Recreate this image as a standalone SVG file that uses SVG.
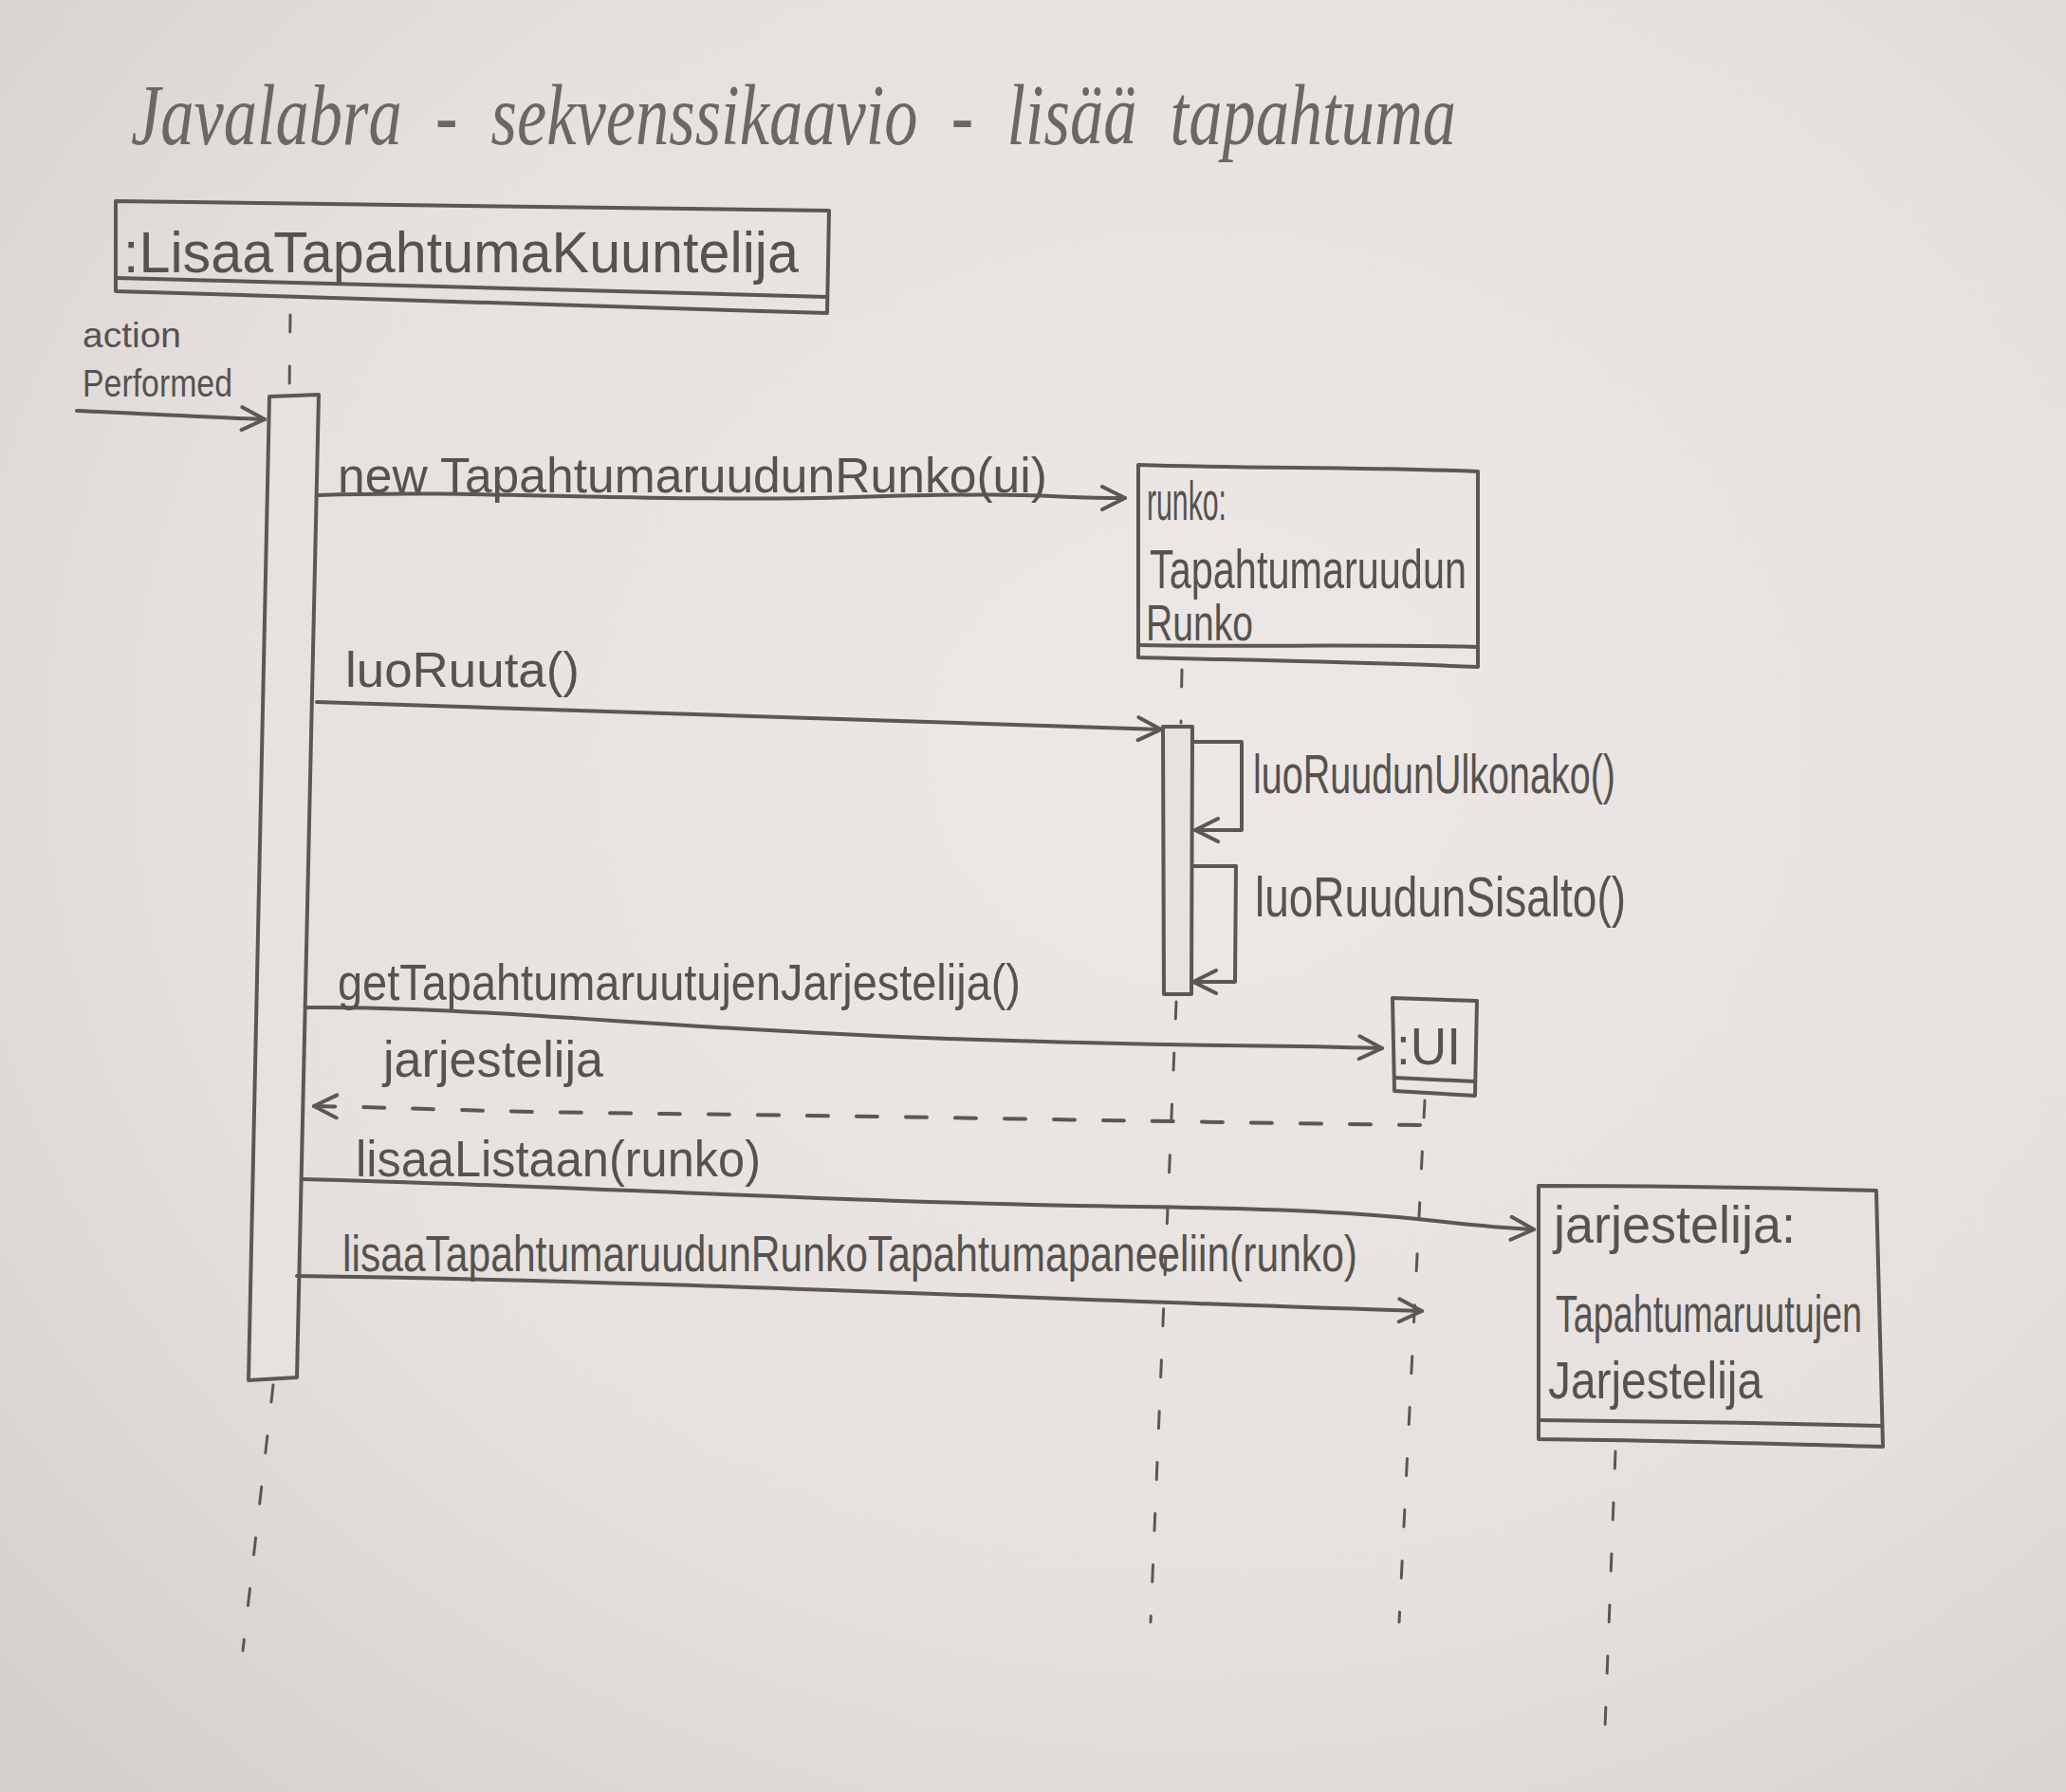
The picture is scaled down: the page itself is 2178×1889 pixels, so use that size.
<svg xmlns="http://www.w3.org/2000/svg" width="2178" height="1889" viewBox="0 0 2178 1889">
<defs>
<radialGradient id="paper" cx="0.58" cy="0.42" r="0.8">
<stop offset="0" stop-color="#ede8e5"/>
<stop offset="0.6" stop-color="#e6e1de"/>
<stop offset="1" stop-color="#d4cfcb"/>
</radialGradient>
<marker id="arr" viewBox="0 0 30 28" markerWidth="30" markerHeight="28" refX="27" refY="14" orient="auto" markerUnits="userSpaceOnUse">
<path d="M3,2 L27,14 L3,26" fill="none" stroke="#5a5754" stroke-width="4" stroke-dasharray="none" stroke-linecap="round" stroke-linejoin="round"/>
</marker>
<style>
.ln{fill:none;stroke:#5a5754;stroke-width:4;stroke-linecap:round;stroke-linejoin:round}
.box{fill:none;stroke:#5a5754;stroke-width:4;stroke-linejoin:round}
.bar{fill:#e6e2df;stroke:#5a5754;stroke-width:4;stroke-linejoin:round}
.life{fill:none;stroke:#5a5754;stroke-width:3;stroke-dasharray:18 36;stroke-linecap:round}
.ret{stroke-dasharray:22 30}
.t{font-family:"Liberation Sans Narrow","Liberation Sans",sans-serif;fill:#55524f}
.title{font-family:"Liberation Serif",serif;font-style:italic;fill:#6a6764;font-size:90px}
</style>
</defs>
<rect x="0" y="0" width="2178" height="1889" fill="url(#paper)"/>

<g id="title">
<text class="title" x="138" y="152" textLength="1397" lengthAdjust="spacingAndGlyphs" xml:space="preserve">Javalabra  -  sekvenssikaavio  -  lisää  tapahtuma</text>
</g>

<g id="kuuntelija">
<path class="box" d="M122,212 C350,214 600,216 874,222 L872,330 C600,322 350,312 122,307 Z"/>
<path class="ln" d="M122,293 C350,298 600,306 872,313"/>
<text class="t" x="130" y="287" font-size="62" textLength="712" lengthAdjust="spacingAndGlyphs">:LisaaTapahtumaKuuntelija</text>
<path class="life" d="M306,332 L305,415"/>
<path class="bar" d="M284,418 L336,416 L313,1452 L262,1455 Z"/>
<path class="life" d="M288,1460 L256,1740"/>
</g>

<g id="runko">
<path class="box" d="M1200,490 C1320,494 1440,492 1558,497 L1558,703 C1440,698 1320,696 1200,693 Z"/>
<path class="ln" d="M1200,680 C1320,682 1440,679 1558,682"/>
<text class="t" x="1209" y="548" font-size="58" textLength="84" lengthAdjust="spacingAndGlyphs">runko:</text>
<text class="t" x="1212" y="620" font-size="58" textLength="334" lengthAdjust="spacingAndGlyphs">Tapahtumaruudun</text>
<text class="t" x="1208" y="675" font-size="54" textLength="113" lengthAdjust="spacingAndGlyphs">Runko</text>
<path class="life" d="M1246,706 L1245,762"/>
<path class="bar" d="M1226,766 L1257,766 L1256,1048 L1227,1048 Z"/>
<path class="life" d="M1240,1056 L1213,1710"/>
</g>

<g id="ui">
<path class="box" d="M1468,1052 L1557,1055 L1555,1155 L1470,1150 Z"/>
<path class="ln" d="M1470,1136 L1555,1140"/>
<text class="t" x="1472" y="1122" font-size="56" textLength="68" lengthAdjust="spacingAndGlyphs">:UI</text>
<path class="life" d="M1502,1160 L1475,1710"/>
</g>

<g id="jarjestelija">
<path class="box" d="M1622,1250 C1750,1250 1860,1252 1978,1255 L1985,1525 C1860,1522 1740,1518 1622,1517 Z"/>
<path class="ln" d="M1622,1497 C1750,1498 1860,1500 1983,1503"/>
<text class="t" x="1638" y="1310" font-size="55" textLength="255" lengthAdjust="spacingAndGlyphs">jarjestelija:</text>
<text class="t" x="1640" y="1404" font-size="56" textLength="323" lengthAdjust="spacingAndGlyphs">Tapahtumaruutujen</text>
<text class="t" x="1632" y="1474" font-size="56" textLength="226" lengthAdjust="spacingAndGlyphs">Jarjestelija</text>
<path class="life" d="M1703,1530 L1692,1822"/>
</g>

<g id="connectors">
<path class="ln" marker-end="url(#arr)" d="M81,433 C150,436 220,440 279,442"/>
<path class="ln" marker-end="url(#arr)" d="M336,522 C500,516 700,530 900,524 S1100,525 1186,525"/>
<path class="ln" marker-end="url(#arr)" d="M334,740 C600,748 900,758 1224,769"/>
<path class="ln" marker-end="url(#arr)" d="M1258,782 L1309,782 L1309,875 L1260,875"/>
<path class="ln" marker-end="url(#arr)" d="M1257,913 L1303,913 L1302,1035 L1258,1035"/>
<path class="ln" marker-end="url(#arr)" d="M322,1062 C500,1060 700,1085 1000,1095 S1300,1100 1457,1105"/>
<path class="ln ret" marker-end="url(#arr)" d="M1497,1186 C1200,1182 900,1176 700,1174 S450,1168 331,1166"/>
<path class="ln" marker-end="url(#arr)" d="M319,1243 C600,1250 900,1268 1200,1272 S1500,1290 1617,1296"/>
<path class="ln" marker-end="url(#arr)" d="M313,1345 C700,1350 1100,1370 1499,1382"/>
</g>

<g id="labels">
<text class="t" x="87" y="366" font-size="36" textLength="104" lengthAdjust="spacingAndGlyphs">action</text>
<text class="t" x="87" y="418" font-size="40" textLength="158" lengthAdjust="spacingAndGlyphs">Performed</text>
<text class="t" x="356" y="519" font-size="52" textLength="748" lengthAdjust="spacingAndGlyphs">new TapahtumaruudunRunko(ui)</text>
<text class="t" x="364" y="724" font-size="52" textLength="247" lengthAdjust="spacingAndGlyphs">luoRuuta()</text>
<text class="t" x="1321" y="836" font-size="58" textLength="382" lengthAdjust="spacingAndGlyphs">luoRuudunUlkonako()</text>
<text class="t" x="1323" y="966" font-size="60" textLength="391" lengthAdjust="spacingAndGlyphs">luoRuudunSisalto()</text>
<text class="t" x="356" y="1054" font-size="54" textLength="720" lengthAdjust="spacingAndGlyphs">getTapahtumaruutujenJarjestelija()</text>
<text class="t" x="404" y="1135" font-size="54" textLength="232" lengthAdjust="spacingAndGlyphs">jarjestelija</text>
<text class="t" x="375" y="1240" font-size="54" textLength="427" lengthAdjust="spacingAndGlyphs">lisaaListaan(runko)</text>
<text class="t" x="361" y="1340" font-size="54" textLength="1070" lengthAdjust="spacingAndGlyphs">lisaaTapahtumaruudunRunkoTapahtumapaneeliin(runko)</text>
</g>
</svg>
